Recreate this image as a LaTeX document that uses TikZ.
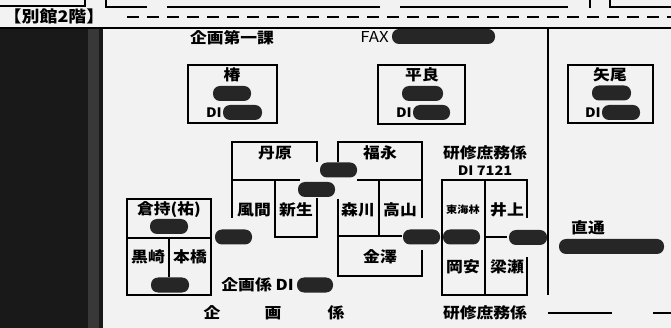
\documentclass[tikz,border=0pt]{standalone}
\usepackage{fontspec}
\setmainfont{Noto Sans CJK JP}[FakeStretch=1.12]
\begin{document}
\begin{tikzpicture}[x=1pt, y=-1pt,
    wall/.style={line width=1.4pt},
    bar/.style={fill=black!85, rounded corners=7pt, inner sep=0pt, minimum height=15pt},
    person/.style={inner sep=0pt, font=\fontsize{15pt}{15pt}\selectfont\bfseries},
    smallname/.style={inner sep=0pt, font=\fontsize{10pt}{10pt}\selectfont\bfseries},
    latin/.style={inner sep=0pt, font=\fontsize{13pt}{13pt}\selectfont\bfseries}]
            % Define the page
            \useasboundingbox (0,0) rectangle (671,328);
            \fill[black!5] (0,0) rectangle (671,328);
            \fill[black!90] (0,29) rectangle (103,328);
            \fill[black!78] (88,29) rectangle (99,328);

            % Draw walls of the floor above
            \draw[wall] (0,6) -- (85,6) -- (85,0);
            \draw[wall] (106,0) -- (106,7) -- (147,7);
            \draw[wall] (167,7) -- (380,7);
            \draw[wall] (400,7) -- (568,7);
            \draw[wall] (590,0) -- (590,8);
            \draw[wall] (610,0) -- (610,7) -- (671,7);
            \draw[wall, dash pattern=on 12pt off 8pt] (127,17) -- (671,17);
            \draw[wall] (0,28) -- (671,28);
            \draw[wall] (548,28) -- (548,295);
            \draw[wall] (548,313) -- (612,313);
            \draw[wall] (653,313) -- (671,313);

            % Draw rooms
            \draw[wall] (188,65) rectangle (277,123);
            \draw[wall] (378,65) rectangle (465,124);
            \draw[wall] (568,65) rectangle (653,123);
            \draw[wall] (232,218) -- (232,142) -- (317,142) -- (317,162);
            \draw[wall] (232,180) -- (300,180);
            \draw[wall] (275,180) -- (275,237) -- (317,237) -- (317,198);
            \draw[wall] (338,162) -- (338,142) -- (422,142) -- (422,218);
            \draw[wall] (357,180) -- (422,180);
            \draw[wall] (338,199) -- (338,276) -- (422,276) -- (422,250);
            \draw[wall] (379,180) -- (379,237);
            \draw[wall] (338,236) -- (402,236);
            \draw[wall] (527,218) -- (527,180) -- (442,180) -- (442,295) -- (527,295) -- (527,257);
            \draw[wall] (485,180) -- (485,295);
            \draw[wall] (485,237) -- (507,237);
            \draw[wall] (127,199) rectangle (211,295);
            \draw[wall] (127,238) -- (211,238);
            \draw[wall] (169,238) -- (169,277);

            % Add labels
            \node[person, font=\fontsize{16pt}{16pt}\selectfont\bfseries] (floor) at (54,16) {【別館2階】};
            \node[person] (section) at (232,38) {企画第一課};
            \node[latin, anchor=east, font=\fontsize{15pt}{15pt}\selectfont] (fax) at (389,37) {FAX};
            \node[person] (tsubaki) at (232,75) {椿};
            \node[latin, anchor=east] (tsubakidi) at (222,113) {DI};
            \node[person] (taira) at (422,75) {平良};
            \node[latin, anchor=east] (tairadi) at (412,113) {DI};
            \node[person] (yao) at (610,75) {矢尾};
            \node[latin, anchor=east] (yaodi) at (601,113) {DI};
            \node[person] (tanbara) at (275,153) {丹原};
            \node[person] (kazama) at (254,210) {風間};
            \node[person] (shinsei) at (296,210) {新生};
            \node[person] (fukunaga) at (380,153) {福永};
            \node[person] (morikawa) at (358,210) {森川};
            \node[person] (takayama) at (400,210) {高山};
            \node[person] (kanazawa) at (380,257) {金澤};
            \node[person] (kuramochi) at (169,210) {倉持(祐)};
            \node[person] (kurosaki) at (148,257) {黒崎};
            \node[person] (motohashi) at (190,257) {本橋};
            \node[person, anchor=east] (kikakudi) at (294,285) {企画係 DI};
            \node[person] (kenshu) at (485,153) {研修庶務係};
            \node[latin] (kenshudi) at (485,171) {DI 7121};
            \node[smallname] (shoji) at (463,210) {東海林};
            \node[person] (inoue) at (507,210) {井上};
            \node[person] (okayasu) at (463,267) {岡安};
            \node[person] (yanase) at (507,267) {梁瀬};
            \node[person] (chokutsu) at (588,228) {直通};
            \node[person] (ki) at (212,313) {企};
            \node[person] (ga) at (273,313) {画};
            \node[person] (kei) at (336,313) {係};
            \node[person] (kenshubottom) at (485,313) {研修庶務係};

            % Add blacked-out numbers
            \node[bar, minimum width=103pt] (faxno) at (443.5,36.5) {};
            \node[bar, minimum width=38pt] (tsubakino) at (232,93.5) {};
            \node[bar, minimum width=39pt] (tsubakidino) at (242.5,112.5) {};
            \node[bar, minimum width=41pt] (tairano) at (422.5,93.5) {};
            \node[bar, minimum width=37pt] (tairadino) at (431.5,112.5) {};
            \node[bar, minimum width=39pt] (yaono) at (611.5,93) {};
            \node[bar, minimum width=38pt] (yaodino) at (621,112.5) {};
            \node[bar, minimum width=37pt] (fukunagano) at (338.5,170) {};
            \node[bar, minimum width=37pt] (shinseino) at (316.5,189.5) {};
            \node[bar, minimum width=38pt] (kuramochino) at (169,226.5) {};
            \node[bar, minimum width=38pt] (motohashino) at (170,285) {};
            \node[bar, minimum width=37pt] (kazamano) at (233.5,237) {};
            \node[bar, minimum width=36pt] (kikakuno) at (315,285) {};
            \node[bar, minimum width=37pt] (kanazawano) at (421.5,237) {};
            \node[bar, minimum width=37pt] (shojino) at (461.5,237) {};
            \node[bar, minimum width=38pt] (inoueno) at (528,237.5) {};
            \node[bar, minimum width=105pt] (chokutsuno) at (611.5,246.5) {};
        \end{tikzpicture}
\end{document}
